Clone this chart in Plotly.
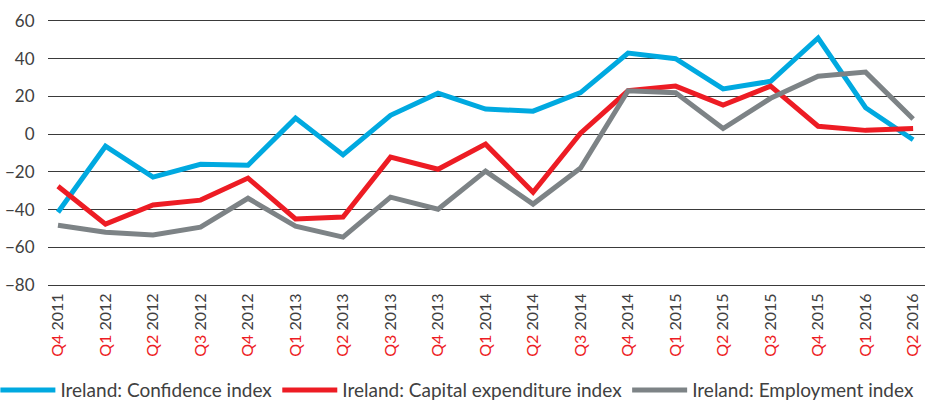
import plotly.graph_objects as go

quarters = ["Q4", "Q1", "Q2", "Q3", "Q4", "Q1", "Q2", "Q3", "Q4", "Q1",
            "Q2", "Q3", "Q4", "Q1", "Q2", "Q3", "Q4", "Q1", "Q2"]
years = ["2011", "2012", "2012", "2012", "2012", "2013", "2013", "2013", "2013", "2014",
         "2014", "2014", "2014", "2015", "2015", "2015", "2015", "2016", "2016"]

confidence = [-41.4, -6.4, -22.8, -16, -16.5, 8.5, -11, 10, 21.7, 13.3,
              12.2, 22, 43, 40, 24, 28, 51, 14, -3]
capex = [-27.6, -47.7, -37.6, -35, -23.3, -45, -44, -12.2, -18.6, -5.3,
         -30.8, 0.5, 23, 25.5, 15.4, 25.5, 4.2, 2, 3]
employment = [-48.3, -52, -53.5, -49.3, -34, -48.8, -54.6, -33.4, -39.8, -19.6,
              -37.1, -18, 23, 22, 3, 19, 30.7, 32.9, 8]

y_ticks = [60, 40, 20, 0, -20, -40, -60, -80]

tick_text = [f"<span style='color:#ED1C24'>{q}</span> {y}" for q, y in zip(quarters, years)]
xs = list(range(len(quarters)))

fig = go.Figure()
series = [
    ("Ireland: Confidence index", confidence, "#00A9E0"),
    ("Ireland: Capital expenditure index", capex, "#ED1C24"),
    ("Ireland: Employment index", employment, "#7D8386"),
]
for name, vals, col in series:
    fig.add_trace(go.Scatter(x=xs, y=vals, name=name, mode="lines",
                             line=dict(color=col, width=5)))

fig.update_layout(
    width=933, height=403,
    margin=dict(l=48, r=8, t=21, b=118, autoexpand=False),
    paper_bgcolor="white", plot_bgcolor="white",
    font=dict(family="Lato, Noto Sans, sans-serif", size=16, color="#404040"),
    showlegend=True,
    legend=dict(orientation="h", x=-0.06, xanchor="left", y=-0.326, yanchor="top",
                font=dict(size=19, color="#404040"), itemwidth=55,
                bgcolor="rgba(0,0,0,0)"),
)
fig.update_xaxes(
    tickmode="array", tickvals=xs, ticktext=tick_text, tickangle=-90,
    range=[-0.21, 18.25], showgrid=False, zeroline=False,
    showline=True, mirror=True, linecolor="#3a3a3a", linewidth=1,
    ticks="outside", ticklen=1, tickcolor="rgba(0,0,0,0)", automargin=False,
    tickfont=dict(size=16, color="#404040"),
)
fig.update_yaxes(
    range=[-80, 60], tickmode="array", tickvals=y_ticks,
    showgrid=True, gridcolor="#3a3a3a", gridwidth=1,
    zeroline=True, zerolinecolor="#3a3a3a", zerolinewidth=1,
    showline=False, ticks="outside", ticklen=9, tickcolor="rgba(0,0,0,0)",
    automargin=False, tickfont=dict(size=17, color="#404040"),
)

fig.write_html("out.html", config={"displayModeBar": False},
               post_script="document.body.style.margin='0';")
